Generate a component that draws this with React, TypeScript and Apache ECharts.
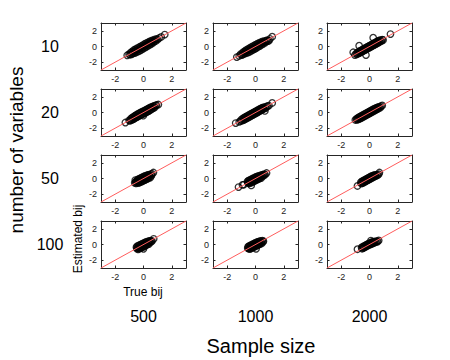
import React, { useEffect, useRef } from "react";
import * as echarts from "echarts";

const rowLabels = ["10", "20", "50", "100"];
const colLabels = ["500", "1000", "2000"];
const tickValues = [-2, 0, 2];
const axisMin = -3;
const axisMax = 3;
const diagonal = [[-3, -3], [3, 3]];

const p10_500 = [[-1.15,-1.12],[-1.02,-0.98],[-0.95,-1.05],[-0.9,-0.78],[-0.85,-1.0],[-0.8,-0.62],[-0.76,-0.9],[-0.72,-0.7],[-0.68,-0.45],[-0.64,-0.85],[-0.6,-0.58],[-0.56,-0.34],[-0.52,-0.76],[-0.48,-0.5],[-0.44,-0.22],[-0.4,-0.66],[-0.36,-0.38],[-0.32,-0.1],[-0.28,-0.56],[-0.24,-0.26],[-0.2,0.02],[-0.16,-0.44],[-0.12,-0.14],[-0.08,0.14],[-0.04,-0.3],[0.0,-0.02],[0.04,0.28],[0.08,-0.18],[0.12,0.1],[0.16,0.4],[0.2,-0.04],[0.24,0.24],[0.28,0.5],[0.32,0.08],[0.36,0.36],[0.4,0.62],[0.44,0.2],[0.48,0.46],[0.52,0.72],[0.56,0.34],[0.6,0.6],[0.65,0.8],[0.7,0.5],[0.75,0.72],[0.8,0.9],[0.85,0.68],[0.92,0.95],[1.0,0.88],[1.1,1.08],[1.25,1.22],[1.5,1.52]];
const p10_1000 = [[-1.32,-1.35],[-1.15,-1.2],[-1.05,-0.98],[-0.98,-1.1],[-0.92,-0.82],[-0.87,-1.02],[-0.82,-0.66],[-0.78,-0.92],[-0.74,-0.72],[-0.7,-0.5],[-0.66,-0.86],[-0.62,-0.6],[-0.58,-0.36],[-0.54,-0.78],[-0.5,-0.5],[-0.46,-0.24],[-0.42,-0.68],[-0.38,-0.4],[-0.34,-0.12],[-0.3,-0.56],[-0.26,-0.28],[-0.22,0.0],[-0.18,-0.44],[-0.14,-0.16],[-0.1,0.12],[-0.06,-0.32],[-0.02,-0.04],[0.02,0.24],[0.06,-0.2],[0.1,0.08],[0.14,0.36],[0.18,-0.06],[0.22,0.2],[0.26,0.46],[0.3,0.06],[0.34,0.32],[0.38,0.56],[0.42,0.2],[0.46,0.44],[0.5,0.64],[0.55,0.34],[0.6,0.56],[0.65,0.72],[0.7,0.5],[0.76,0.7],[0.82,0.82],[0.88,0.7],[0.95,0.75],[1.02,0.98],[1.18,1.25]];
const p10_2000 = [[-1.15,-0.74],[-1.03,-1.09],[-0.95,-0.9],[-0.9,-1.0],[-0.85,-0.76],[-0.8,-0.92],[-0.76,-0.66],[-0.73,0.1],[-0.72,-0.84],[-0.68,-0.58],[-0.64,-0.76],[-0.6,-0.5],[-0.56,-0.7],[-0.52,-0.42],[-0.48,-0.62],[-0.44,-0.34],[-0.4,-0.54],[-0.36,-0.26],[-0.32,-0.46],[-0.28,-0.18],[-0.25,-1.09],[-0.24,-0.38],[-0.2,-0.1],[-0.16,-0.3],[-0.12,-0.02],[-0.08,-0.22],[-0.04,0.06],[0.0,-0.14],[0.04,0.14],[0.08,-0.06],[0.12,0.22],[0.16,0.02],[0.2,0.3],[0.24,0.1],[0.26,1.12],[0.28,0.38],[0.32,0.18],[0.36,0.46],[0.4,0.26],[0.44,0.54],[0.48,0.34],[0.52,0.62],[0.56,0.42],[0.6,0.7],[0.64,0.5],[0.68,0.76],[0.72,0.58],[0.78,0.82],[0.84,0.68],[0.9,0.88],[0.96,0.83],[1.48,1.58]];
const p20_500 = [[-1.28,-1.28],[-1.02,-1.0],[-0.96,-1.06],[-0.9,-0.8],[-0.86,-0.98],[-0.82,-0.68],[-0.78,-0.9],[-0.74,-0.6],[-0.7,-0.84],[-0.66,-0.48],[-0.62,-0.74],[-0.58,-0.4],[-0.54,-0.66],[-0.5,-0.3],[-0.46,-0.58],[-0.42,-0.22],[-0.38,-0.5],[-0.34,-0.14],[-0.3,-0.42],[-0.26,-0.06],[-0.22,-0.34],[-0.18,0.02],[-0.14,-0.26],[-0.1,0.1],[-0.06,-0.2],[-0.02,-0.4],[0.0,0.16],[0.04,-0.12],[0.08,0.24],[0.12,-0.04],[0.16,0.32],[0.2,0.02],[0.24,0.4],[0.28,0.1],[0.32,0.48],[0.36,0.18],[0.4,0.56],[0.44,0.26],[0.48,0.64],[0.52,0.36],[0.56,0.7],[0.6,0.46],[0.65,0.76],[0.7,0.56],[0.75,0.84],[0.8,0.66],[0.86,0.9],[0.92,0.95],[1.05,1.02]];
const p20_1000 = [[-1.4,-1.35],[-1.15,-1.2],[-1.06,-1.1],[-1.0,-0.9],[-0.94,-1.04],[-0.88,-0.76],[-0.84,-0.96],[-0.8,-0.66],[-0.76,-0.88],[-0.72,-0.58],[-0.68,-0.8],[-0.64,-0.5],[-0.6,-0.72],[-0.56,-0.42],[-0.52,-0.64],[-0.48,-0.34],[-0.44,-0.56],[-0.4,-0.26],[-0.36,-0.48],[-0.32,-0.18],[-0.28,-0.4],[-0.24,-0.1],[-0.2,-0.32],[-0.16,-0.02],[-0.12,-0.24],[-0.08,0.06],[-0.04,-0.16],[0.0,0.14],[0.04,-0.08],[0.08,0.22],[0.12,0.0],[0.16,0.3],[0.2,0.08],[0.24,0.38],[0.28,0.16],[0.32,0.46],[0.36,0.24],[0.4,0.54],[0.44,0.32],[0.48,0.6],[0.52,0.4],[0.56,0.66],[0.6,0.48],[0.66,0.2],[0.68,0.72],[0.72,0.56],[0.78,0.76],[0.86,0.82],[0.95,0.88],[1.18,1.22]];
const p20_2000 = [[-1.0,-0.95],[-0.92,-0.8],[-0.88,-0.94],[-0.84,-0.72],[-0.8,-0.88],[-0.76,-0.62],[-0.72,-0.82],[-0.68,-0.54],[-0.64,-0.76],[-0.6,-0.46],[-0.56,-0.68],[-0.52,-0.38],[-0.48,-0.6],[-0.44,-0.3],[-0.4,-0.52],[-0.36,-0.22],[-0.32,-0.44],[-0.28,-0.14],[-0.24,-0.36],[-0.2,-0.06],[-0.16,-0.28],[-0.12,0.02],[-0.08,-0.2],[-0.04,0.1],[0.0,-0.12],[0.04,0.18],[0.08,-0.04],[0.12,0.26],[0.16,0.04],[0.2,0.34],[0.24,0.12],[0.28,0.42],[0.32,0.2],[0.36,0.5],[0.4,0.28],[0.44,0.56],[0.48,0.36],[0.52,0.62],[0.56,0.44],[0.6,0.68],[0.65,0.52],[0.7,0.74],[0.76,0.62],[0.82,0.8],[0.9,0.9]];
const p50_500 = [[-0.62,-0.55],[-0.58,-0.2],[-0.55,-0.42],[-0.52,-0.62],[-0.48,-0.3],[-0.45,-0.5],[-0.42,-0.14],[-0.39,-0.38],[-0.36,-0.58],[-0.33,-0.06],[-0.3,-0.3],[-0.27,-0.5],[-0.24,0.02],[-0.21,-0.22],[-0.18,-0.44],[-0.15,0.1],[-0.12,-0.14],[-0.09,-0.36],[-0.06,0.18],[-0.03,-0.06],[0.0,-0.28],[0.03,0.26],[0.06,0.02],[0.09,-0.2],[0.12,0.32],[0.15,0.1],[0.18,-0.12],[0.21,0.38],[0.24,0.16],[0.27,-0.04],[0.3,0.44],[0.33,0.22],[0.36,0.04],[0.4,0.48],[0.44,0.28],[0.48,0.12],[0.52,0.56],[0.56,0.36],[0.6,0.6],[0.7,0.76]];
const p50_1000 = [[-1.2,-1.1],[-0.92,-0.82],[-0.82,-0.78],[-0.3,-0.88],[-0.56,-0.38],[-0.53,-0.56],[-0.5,-0.28],[-0.47,-0.48],[-0.44,-0.62],[-0.41,-0.2],[-0.38,-0.42],[-0.35,-0.56],[-0.32,-0.12],[-0.29,-0.34],[-0.26,-0.48],[-0.23,-0.04],[-0.2,-0.26],[-0.17,-0.4],[-0.14,0.04],[-0.11,-0.18],[-0.08,-0.32],[-0.05,0.12],[-0.02,-0.1],[0.01,-0.24],[0.04,0.2],[0.07,-0.02],[0.1,-0.16],[0.13,0.26],[0.16,0.06],[0.19,-0.08],[0.22,0.32],[0.25,0.12],[0.28,0.0],[0.32,0.38],[0.36,0.2],[0.4,0.06],[0.44,0.44],[0.48,0.28],[0.52,0.48],[0.58,0.38],[0.62,0.56],[0.68,0.5],[0.78,0.7]];
const p50_2000 = [[-0.85,-0.95],[-0.62,-0.48],[-0.58,-0.64],[-0.54,-0.38],[-0.5,-0.58],[-0.46,-0.3],[-0.42,-0.52],[-0.38,-0.22],[-0.34,-0.44],[-0.3,-0.14],[-0.26,-0.36],[-0.22,-0.06],[-0.18,-0.28],[-0.14,0.02],[-0.1,-0.2],[-0.06,0.1],[-0.02,-0.12],[0.02,0.18],[0.06,-0.04],[0.1,0.26],[0.14,0.04],[0.18,0.32],[0.22,0.12],[0.26,0.38],[0.3,0.2],[0.34,0.42],[0.38,0.26],[0.42,0.46],[0.46,0.32],[0.52,0.5],[0.58,0.42],[0.65,0.55],[0.7,0.76]];
const p100_500 = [[-0.5,-0.35],[-0.47,-0.52],[-0.44,-0.22],[-0.41,-0.44],[-0.38,-0.62],[-0.35,-0.14],[-0.32,-0.36],[-0.29,-0.54],[-0.26,-0.06],[-0.23,-0.28],[-0.2,-0.46],[-0.17,0.02],[-0.14,-0.2],[-0.11,-0.38],[-0.08,0.1],[-0.05,-0.12],[-0.02,-0.3],[0.0,-0.55],[0.02,0.18],[0.05,-0.04],[0.08,-0.22],[0.11,0.26],[0.14,0.04],[0.17,-0.12],[0.2,0.34],[0.23,0.12],[0.26,-0.02],[0.3,0.4],[0.34,0.2],[0.38,0.06],[0.42,0.46],[0.46,0.28],[0.5,0.5],[0.55,0.36],[0.6,0.46],[0.72,0.72]];
const p100_1000 = [[-0.55,-0.45],[-0.52,-0.28],[-0.49,-0.52],[-0.46,-0.2],[-0.43,-0.42],[-0.4,-0.58],[-0.37,-0.12],[-0.34,-0.34],[-0.31,-0.5],[-0.28,-0.04],[-0.25,-0.26],[-0.22,-0.42],[-0.19,0.04],[-0.16,-0.18],[-0.13,-0.34],[-0.1,0.12],[-0.07,-0.1],[-0.04,-0.26],[-0.01,0.2],[0.02,-0.02],[0.04,-0.55],[0.05,-0.18],[0.08,0.28],[0.11,0.06],[0.14,-0.1],[0.17,0.34],[0.2,0.12],[0.23,-0.02],[0.26,0.4],[0.29,0.2],[0.32,0.06],[0.36,0.46],[0.4,0.28],[0.44,0.14],[0.48,0.5],[0.52,0.34],[0.56,0.42]];
const p100_2000 = [[-0.85,-0.6],[-0.56,-0.38],[-0.52,-0.54],[-0.48,-0.3],[-0.44,-0.46],[-0.4,-0.22],[-0.36,-0.38],[-0.32,-0.14],[-0.28,-0.3],[-0.24,-0.06],[-0.2,-0.22],[-0.16,0.02],[-0.12,-0.14],[-0.08,0.1],[-0.04,-0.06],[0.0,0.16],[0.04,0.0],[0.08,0.22],[0.1,0.5],[0.12,0.06],[0.16,0.28],[0.2,0.12],[0.24,0.32],[0.28,0.18],[0.32,0.36],[0.36,0.24],[0.4,0.4],[0.46,0.3],[0.52,0.42],[0.58,0.38],[0.65,0.52]];

const panels = [
  [p10_500, p10_1000, p10_2000],
  [p20_500, p20_1000, p20_2000],
  [p50_500, p50_1000, p50_2000],
  [p100_500, p100_1000, p100_2000],
];

const FONT = "'Liberation Sans', Arial, Helvetica, sans-serif";
const gridLefts = [101, 213, 327];
const gridTops = [23, 89, 155, 221];
const gridW = 85;
const gridH = 47;
const axisColor = "#262626";

export default function App() {
  const ref = useRef<HTMLDivElement>(null);
  useEffect(() => {
    if (!ref.current) return;
    const chart = echarts.init(ref.current, undefined, { renderer: "svg" });
    const grids: any[] = [];
    const xAxes: any[] = [];
    const yAxes: any[] = [];
    const series: any[] = [];
    const axisBase = (showLabel: boolean) => ({
      type: "value",
      min: axisMin,
      max: axisMax,
      splitLine: { show: false },
      axisLine: { show: true, onZero: false, lineStyle: { color: axisColor, width: 1 } },
      axisTick: { show: true, inside: true, length: 2.5, customValues: tickValues, lineStyle: { color: axisColor } },
      axisLabel: {
        show: showLabel,
        customValues: tickValues,
        fontSize: 9,
        fontFamily: FONT,
        color: "#222",
        margin: 4,
      },
    });
    panels.forEach((row, r) => {
      row.forEach((data, c) => {
        const k = grids.length;
        grids.push({ left: gridLefts[c], top: gridTops[r], width: gridW, height: gridH, containLabel: false });
        xAxes.push({ ...axisBase(true), gridIndex: k, position: "bottom" });
        xAxes.push({ ...axisBase(false), gridIndex: k, position: "top" });
        yAxes.push({ ...axisBase(true), gridIndex: k, position: "left" });
        yAxes.push({ ...axisBase(false), gridIndex: k, position: "right" });
        series.push({
          type: "scatter",
          xAxisIndex: 2 * k,
          yAxisIndex: 2 * k,
          data,
          symbol: "circle",
          symbolSize: 6.5,
          itemStyle: { color: "rgba(0,0,0,0)", borderColor: "#000", borderWidth: 1.3 },
          z: 2,
        });
        series.push({
          type: "line",
          xAxisIndex: 2 * k,
          yAxisIndex: 2 * k,
          data: diagonal,
          symbol: "none",
          lineStyle: { color: "#ff5c5c", width: 1 },
          z: 3,
        });
      });
    });
    const graphics: any[] = [];
    rowLabels.forEach((t, r) => {
      graphics.push({
        type: "text",
        x: 50,
        y: gridTops[r] + gridH / 2,
        style: { text: t, font: `16px ${FONT}`, fill: "#000", textAlign: "center", textVerticalAlign: "middle" },
      });
    });
    colLabels.forEach((t, c) => {
      graphics.push({
        type: "text",
        x: gridLefts[c] + gridW / 2,
        y: 316,
        style: { text: t, font: `16px ${FONT}`, fill: "#000", textAlign: "center", textVerticalAlign: "middle" },
      });
    });
    graphics.push({
      type: "text",
      x: 16,
      y: 150,
      rotation: Math.PI / 2,
      style: { text: "number of variables", font: `19px ${FONT}`, fill: "#000", textAlign: "center", textVerticalAlign: "middle" },
    });
    graphics.push({
      type: "text",
      x: 261,
      y: 346,
      style: { text: "Sample size", font: `20px ${FONT}`, fill: "#000", textAlign: "center", textVerticalAlign: "middle" },
    });
    graphics.push({
      type: "text",
      x: 78,
      y: 239,
      rotation: Math.PI / 2,
      style: { text: "Estimated bij", font: `12px ${FONT}`, fill: "#000", textAlign: "center", textVerticalAlign: "middle" },
    });
    graphics.push({
      type: "text",
      x: 143,
      y: 292,
      style: { text: "True bij", font: `12px ${FONT}`, fill: "#000", textAlign: "center", textVerticalAlign: "middle" },
    });
    chart.setOption({
      animation: false,
      backgroundColor: "#fff",
      grid: grids,
      xAxis: xAxes,
      yAxis: yAxes,
      series,
      graphic: graphics,
    });
    return () => chart.dispose();
  }, []);
  return <div ref={ref} style={{ width: 450, height: 360, position: "absolute", left: 0, top: 0 }} />;
}
